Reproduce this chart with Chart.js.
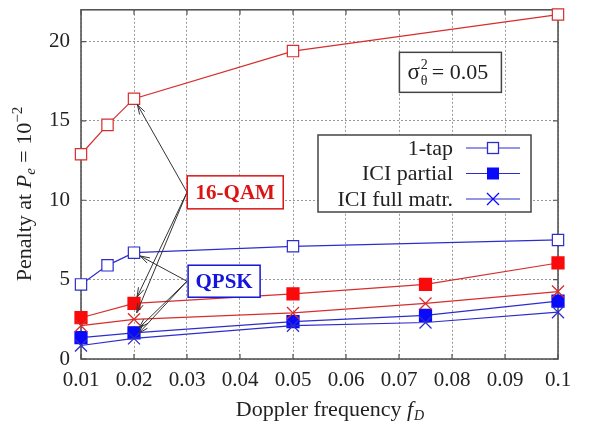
<!DOCTYPE html>
<html>
<head>
<meta charset="utf-8">
<script src="https://cdn.jsdelivr.net/npm/chart.js"></script>
<style>
  html, body { margin: 0; padding: 0; background: #fff; }
  #wrap { width: 589px; height: 425px; }
</style>
</head>
<body>
<div id="wrap"><canvas id="penaltyChart" width="589" height="425"></canvas></div>
<script>
  // Doppler frequencies where each method was simulated
  const fd1tap = [0.01, 0.015, 0.02, 0.05, 0.1];
  const fdIci = [0.01, 0.02, 0.05, 0.075, 0.1];

  // Penalty at Pe = 1e-2 (dB)
  const qam1tap = [12.9, 14.75, 16.4, 19.4, 21.7];
  const qpsk1tap = [4.7, 5.9, 6.7, 7.1, 7.5];
  const qamPartial = [2.6, 3.5, 4.1, 4.7, 6.05];
  const qamFull = [2.1, 2.5, 2.9, 3.5, 4.25];
  const qpskPartial = [1.35, 1.65, 2.35, 2.75, 3.65];
  const qpskFull = [0.85, 1.3, 2.1, 2.3, 2.95];

  const xTicks = [0.01, 0.02, 0.03, 0.04, 0.05, 0.06, 0.07, 0.08, 0.09, 0.1];
  const yTicks = [0, 5, 10, 15, 20];

  const legendLabels = ['1-tap', 'ICI partial', 'ICI full matr.'];

  const RED_LINE = 'rgb(215,45,45)';
  const RED_MARK = 'rgb(250,10,10)';
  const BLUE_LINE = 'rgb(45,45,205)';
  const BLUE_MARK = 'rgb(10,10,250)';
  const SERIF = '"Liberation Serif", "Times New Roman", serif';

  function pts(xs, ys) {
    return xs.map((x, i) => ({ x: x, y: ys[i] }));
  }

  function series(label, xs, ys, lineColor, markColor, style, filled) {
    return {
      label: label,
      data: pts(xs, ys),
      borderColor: lineColor,
      borderWidth: 1.2,
      pointStyle: style,
      pointRadius: style === 'rect' ? (filled ? 8.5 : 8) : 8.5,
      pointBorderColor: style === 'rect' && filled ? markColor : lineColor,
      pointBackgroundColor: filled ? markColor : '#fff',
      pointBorderWidth: style === 'crossRot' ? 1.3 : 1.2,
      fill: false,
      clip: false,
      tension: 0
    };
  }

  // callout boxes and where their arrows point (data coords)
  const callouts = [
    { text: '16-QAM', color: 'rgb(220,20,20)', cx: 0.0391, cy: 10.5, w: 96, h: 33,
      from: [0.0300, 10.5], to: [[0.02, qam1tap[2]], [0.02, qamPartial[1]], [0.02, qamFull[1]]] },
    { text: 'QPSK', color: 'rgb(20,20,220)', cx: 0.0370, cy: 4.9, w: 72, h: 32,
      from: [0.0300, 4.9], to: [[0.02, qpsk1tap[2]], [0.02, qpskPartial[1]], [0.02, qpskFull[1]]] }
  ];

  function arrow(ctx, x1, y1, x2, y2) {
    const ang = Math.atan2(y2 - y1, x2 - x1);
    const len = Math.hypot(x2 - x1, y2 - y1);
    const tx = x1 + (x2 - x1) * (len - 7) / len;
    const ty = y1 + (y2 - y1) * (len - 7) / len;
    ctx.beginPath();
    ctx.moveTo(x1, y1);
    ctx.lineTo(tx, ty);
    ctx.stroke();
    const a = 0.3, hl = 10;
    ctx.beginPath();
    ctx.moveTo(tx - hl * Math.cos(ang - a), ty - hl * Math.sin(ang - a));
    ctx.lineTo(tx, ty);
    ctx.lineTo(tx - hl * Math.cos(ang + a), ty - hl * Math.sin(ang + a));
    ctx.stroke();
  }

  function marker(ctx, kind, x, y, color) {
    ctx.save();
    ctx.strokeStyle = color;
    ctx.lineWidth = 1.3;
    if (kind === 'open') {
      ctx.fillStyle = '#fff';
      ctx.fillRect(x - 5.5, y - 5.5, 11, 11);
      ctx.strokeRect(x - 5.5, y - 5.5, 11, 11);
    } else if (kind === 'filled') {
      ctx.fillStyle = BLUE_MARK;
      ctx.fillRect(x - 6, y - 6, 12, 12);
    } else {
      ctx.beginPath();
      ctx.moveTo(x - 6, y - 6); ctx.lineTo(x + 6, y + 6);
      ctx.moveTo(x + 6, y - 6); ctx.lineTo(x - 6, y + 6);
      ctx.stroke();
    }
    ctx.restore();
  }

  // draw a list of [text, font, dy, extra] pieces left to right, returns width
  function richText(ctx, parts, x, y, measureOnly) {
    let cx = x;
    for (const p of parts) {
      ctx.font = p[1];
      if (!measureOnly) ctx.fillText(p[0], cx, y + (p[2] || 0));
      cx += ctx.measureText(p[0]).width + (p[3] || 0);
    }
    return cx - x;
  }

  const overlay = {
    id: 'overlay',
    beforeDatasetsDraw(chart) {
      const ctx = chart.ctx;
      const xs = chart.scales.x, ys = chart.scales.y;
      const area = chart.chartArea;
      ctx.save();
      // inward ticks
      ctx.strokeStyle = '#555';
      ctx.lineWidth = 1.2;
      ctx.beginPath();
      for (const v of xTicks) {
        const px = xs.getPixelForValue(v);
        ctx.moveTo(px, area.bottom); ctx.lineTo(px, area.bottom - 5);
        ctx.moveTo(px, area.top); ctx.lineTo(px, area.top + 5);
      }
      for (const v of yTicks) {
        const py = ys.getPixelForValue(v);
        ctx.moveTo(area.left, py); ctx.lineTo(area.left + 5, py);
        ctx.moveTo(area.right, py); ctx.lineTo(area.right - 5, py);
      }
      ctx.stroke();
      // frame
      ctx.lineWidth = 1.6;
      ctx.strokeStyle = '#555';
      ctx.strokeRect(area.left, area.top, area.right - area.left, area.bottom - area.top);
      ctx.restore();
    },
    afterDraw(chart) {
      const ctx = chart.ctx;
      const xs = chart.scales.x, ys = chart.scales.y;

      ctx.save();
      // callout arrows then boxes
      ctx.strokeStyle = '#333';
      ctx.lineWidth = 1;
      for (const c of callouts) {
        const fx = xs.getPixelForValue(c.from[0]), fy = ys.getPixelForValue(c.from[1]);
        for (const t of c.to) {
          arrow(ctx, fx, fy, xs.getPixelForValue(t[0]), ys.getPixelForValue(t[1]));
        }
      }
      for (const c of callouts) {
        const bx = xs.getPixelForValue(c.cx), by = ys.getPixelForValue(c.cy);
        ctx.fillStyle = '#fff';
        ctx.fillRect(bx - c.w / 2, by - c.h / 2, c.w, c.h);
        ctx.strokeStyle = c.color;
        ctx.lineWidth = 1.5;
        ctx.strokeRect(bx - c.w / 2, by - c.h / 2, c.w, c.h);
        ctx.fillStyle = c.color;
        ctx.font = 'bold 21px ' + SERIF;
        ctx.textAlign = 'center';
        ctx.textBaseline = 'middle';
        ctx.fillText(c.text, bx, by + 1);
      }

      // sigma box
      {
        const bx = xs.getPixelForValue(0.0797), by = ys.getPixelForValue(18.06);
        const w = 102, h = 40;
        ctx.fillStyle = '#fff';
        ctx.fillRect(bx - w / 2, by - h / 2, w, h);
        ctx.strokeStyle = '#444';
        ctx.lineWidth = 1.5;
        ctx.strokeRect(bx - w / 2, by - h / 2, w, h);
        ctx.fillStyle = '#222';
        ctx.textAlign = 'left';
        ctx.textBaseline = 'alphabetic';
        const base = by + 7;
        let x0 = bx - w / 2 + 8;
        ctx.font = '23px ' + SERIF;
        ctx.fillText('σ', x0, base);
        x0 += ctx.measureText('σ').width + 1;
        ctx.font = '14px ' + SERIF;
        ctx.fillText('2', x0, base - 10);
        ctx.fillText('θ', x0, base + 6);
        x0 += 9;
        ctx.font = '22px ' + SERIF;
        ctx.fillText('= 0.05', x0 + 2, base);
      }

      // legend
      {
        const lx = 318, ly = 135, lw = 213, lh = 77;
        ctx.fillStyle = '#fff';
        ctx.fillRect(lx, ly, lw, lh);
        ctx.strokeStyle = '#444';
        ctx.lineWidth = 1.5;
        ctx.strokeRect(lx, ly, lw, lh);
        const kinds = ['open', 'filled', 'cross'];
        ctx.font = '22px ' + SERIF;
        ctx.textAlign = 'right';
        ctx.textBaseline = 'middle';
        for (let i = 0; i < legendLabels.length; i++) {
          const ry = ly + 13 + i * 25.5;
          ctx.fillStyle = '#222';
          ctx.fillText(legendLabels[i], 453, ry + 1);
          ctx.strokeStyle = BLUE_LINE;
          ctx.lineWidth = 1.2;
          ctx.beginPath();
          ctx.moveTo(466, ry); ctx.lineTo(520, ry);
          ctx.stroke();
          marker(ctx, kinds[i], 493, ry, kinds[i] === 'open' ? BLUE_LINE : BLUE_MARK);
        }
      }

      // axis titles
      ctx.fillStyle = '#222';
      ctx.textAlign = 'left';
      ctx.textBaseline = 'alphabetic';
      {
        const parts = [
          ['Doppler frequency ', '22px ' + SERIF, 0],
          ['f', 'italic 22px ' + SERIF, 0, 1],
          ['D', 'italic 14px ' + SERIF, 4]
        ];
        const w = richText(ctx, parts, 0, 0, true);
        richText(ctx, parts, 330 - w / 2, 416);
      }
      {
        const parts = [
          ['Penalty at ', '22px ' + SERIF, 0],
          ['P', 'italic 22px ' + SERIF, 0],
          ['e', 'italic 15px ' + SERIF, 4],
          [' = 10', '22px ' + SERIF, 0],
          ['−2', '15px ' + SERIF, -9]
        ];
        const w = richText(ctx, parts, 0, 0, true);
        ctx.translate(31, 194);
        ctx.rotate(-Math.PI / 2);
        richText(ctx, parts, -w / 2, 0);
      }
      ctx.restore();
    }
  };

  const ctx = document.getElementById('penaltyChart').getContext('2d');
  new Chart(ctx, {
    type: 'line',
    data: {
      datasets: [
        series('16-QAM 1-tap', fd1tap, qam1tap, RED_LINE, RED_MARK, 'rect', false),
        series('QPSK 1-tap', fd1tap, qpsk1tap, BLUE_LINE, BLUE_MARK, 'rect', false),
        series('16-QAM ICI full', fdIci, qamFull, RED_LINE, RED_MARK, 'crossRot', false),
        series('16-QAM ICI partial', fdIci, qamPartial, RED_LINE, RED_MARK, 'rect', true),
        series('QPSK ICI full', fdIci, qpskFull, BLUE_LINE, BLUE_MARK, 'crossRot', false),
        series('QPSK ICI partial', fdIci, qpskPartial, BLUE_LINE, BLUE_MARK, 'rect', true)
      ]
    },
    options: {
      responsive: false,
      animation: false,
      layout: { padding: { left: 0, right: 31, top: 5, bottom: 0 } },
      plugins: { legend: { display: false }, tooltip: { enabled: false } },
      scales: {
        x: {
          type: 'linear',
          min: 0.01,
          max: 0.1,
          afterBuildTicks: (s) => { s.ticks = xTicks.map(v => ({ value: v })); },
          afterFit: (s) => { s.height = 66; s.paddingLeft = 0; s.paddingRight = 0; },
          ticks: {
            color: '#222',
            padding: 9,
            maxRotation: 0,
            font: { family: SERIF, size: 21 },
            callback: (v) => String(Math.round(v * 100) / 100)
          },
          grid: { color: '#999', lineWidth: 1, drawTicks: false },
          border: { display: false, dash: [2, 2] }
        },
        y: {
          min: 0,
          max: 22,
          afterBuildTicks: (s) => { s.ticks = yTicks.map(v => ({ value: v })); },
          afterFit: (s) => { s.width = 81; s.paddingTop = 0; s.paddingBottom = 0; },
          ticks: {
            color: '#222',
            padding: 11,
            font: { family: SERIF, size: 21 }
          },
          grid: { color: '#999', lineWidth: 1, drawTicks: false },
          border: { display: false, dash: [2, 2] }
        }
      }
    },
    plugins: [overlay]
  });
</script>
</body>
</html>
